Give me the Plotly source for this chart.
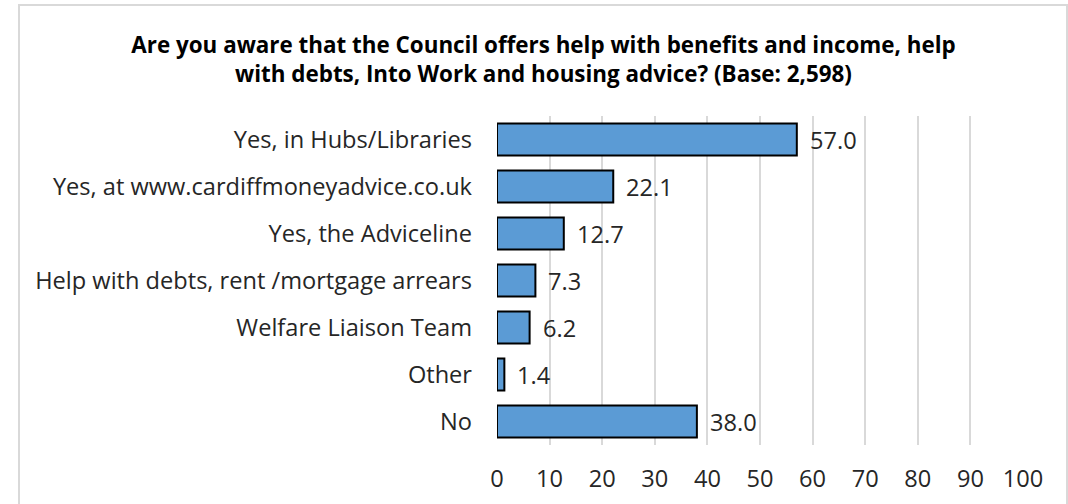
import plotly.graph_objects as go

# Survey responses (percent of respondents)
categories = [
    "Yes, in Hubs/Libraries",
    "Yes, at www.cardiffmoneyadvice.co.uk",
    "Yes, the Adviceline",
    "Help with debts, rent /mortgage arrears",
    "Welfare Liaison Team",
    "Other",
    "No",
]
percentages = [57.0, 22.1, 12.7, 7.3, 6.2, 1.4, 38.0]
tick_values = [0, 10, 20, 30, 40, 50, 60, 70, 80, 90, 100]

FONT = "Open Sans"
TEXT = "#262626"
SIZE = 23.6

W, H = 1068, 504
L, R, T, B = 497, 45, 116, 59
pw, ph = W - L - R, H - T - B

fig = go.Figure(
    go.Bar(
        x=percentages,
        y=categories,
        orientation="h",
        marker=dict(color="#5b9bd5", line=dict(color="#000000", width=2)),
        width=0.68,
        hoverinfo="skip",
    )
)

# value labels just beyond the bar ends
for cat, val in zip(categories, percentages):
    fig.add_annotation(
        x=val, y=cat, xref="x", yref="y",
        text=f"{val:.1f}", showarrow=False,
        xanchor="left", xshift=11,
        font=dict(family=FONT, size=SIZE, color=TEXT),
    )

# light chart-area border
def px_x(p):
    return (p - L) / pw

def px_y(p):
    return (H - B - p) / ph

fig.add_shape(
    type="rect", xref="paper", yref="paper",
    x0=px_x(19), x1=px_x(1067), y0=px_y(520), y1=px_y(5),
    line=dict(color="#d9d9d9", width=2), fillcolor="rgba(0,0,0,0)",
    layer="below",
)

fig.update_layout(
    width=W, height=H,
    margin=dict(l=L, r=R, t=T, b=B, pad=0, autoexpand=False),
    paper_bgcolor="white", plot_bgcolor="white",
    showlegend=False,
    title=dict(
        text="<b>Are you aware that the Council offers help with benefits and income, help<br>with debts, Into Work and housing advice? (Base: 2,598)</b>",
        x=543.5 / W, xanchor="center",
        y=1 - 53 / H, yanchor="top",
        font=dict(family=FONT, size=22.4, color="#000000"),
    ),
    xaxis=dict(
        range=[0, 100], tickvals=tick_values, showgrid=True,
        gridcolor="#d9d9d9", gridwidth=2, zeroline=False, showline=False,
        ticks="", tickfont=dict(family=FONT, size=SIZE, color=TEXT),
        ticklabelstandoff=17, automargin=False,
    ),
    yaxis=dict(
        autorange="reversed", showgrid=False, zeroline=False, showline=False,
        ticks="", ticklabelstandoff=24, automargin=False,
        tickfont=dict(family=FONT, size=SIZE, color=TEXT),
    ),
)

fig.write_html("out.html")
